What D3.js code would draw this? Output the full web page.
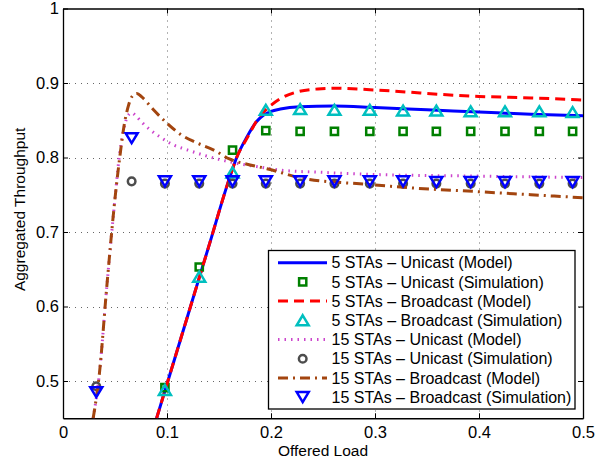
<!DOCTYPE html>
<html lang="en">
<head>
<meta charset="UTF-8">
<script src="https://d3js.org/d3.v7.min.js"></script>
<style>
  body { margin: 0; background: #fff; }
  svg { display: block; font-family: "Liberation Sans", Arial, Helvetica, sans-serif; }
</style>
</head>
<body>
<svg id="chart" width="607" height="463"></svg>
<script>
// ---- data ----
const xTicks = [0, 0.1, 0.2, 0.3, 0.4, 0.5];
const xTickLabels = ["0", "0.1", "0.2", "0.3", "0.4", "0.5"];
const yTicks = [0.5, 0.6, 0.7, 0.8, 0.9, 1];
const yTickLabels = ["0.5", "0.6", "0.7", "0.8", "0.9", "1"];

// offered load of the simulation points
const loadSim = [0.032, 0.066, 0.098, 0.131, 0.163, 0.195, 0.228, 0.261,
                 0.295, 0.327, 0.359, 0.392, 0.425, 0.458, 0.490];

// 5 STAs simulation points start at the 3rd load value (lower ones are off the axis)
const uni5Sim = [0.491, 0.653, 0.810, 0.836, 0.835, 0.835, 0.835, 0.835,
                 0.835, 0.835, 0.835, 0.835, 0.835];
const bc5Sim = [0.488, 0.640, 0.780, 0.864, 0.865, 0.864, 0.864, 0.863,
                0.863, 0.862, 0.862, 0.862, 0.861];
const uni15Sim = [0.493, 0.768, 0.765, 0.765, 0.765, 0.765, 0.765, 0.765,
                  0.765, 0.765, 0.765, 0.765, 0.765, 0.765, 0.765];
const bc15Sim = [0.485, 0.826, 0.768, 0.768, 0.768, 0.768, 0.768, 0.768,
                 0.768, 0.768, 0.767, 0.767, 0.767, 0.767, 0.767];

// model curves, [load, throughput]
const uni5Model = [[0.090,0.45],[0.100,0.496],[0.120,0.588],[0.140,0.680],[0.160,0.772],
  [0.167,0.800],[0.177,0.828],[0.186,0.848],[0.193,0.857],[0.200,0.862],[0.209,0.865],
  [0.228,0.868],[0.260,0.869],[0.300,0.867],[0.350,0.864],[0.400,0.861],[0.450,0.858],[0.500,0.856]];
const bc5Model = [[0.090,0.45],[0.100,0.496],[0.120,0.588],[0.140,0.680],[0.160,0.772],
  [0.167,0.800],[0.177,0.826],[0.189,0.855],[0.200,0.870],[0.209,0.879],[0.225,0.888],
  [0.245,0.892],[0.262,0.893],[0.295,0.891],[0.330,0.888],[0.360,0.885],[0.400,0.882],
  [0.450,0.880],[0.500,0.877]];
const uni15Model = [[0.029,0.45],[0.035,0.51],[0.042,0.625],[0.050,0.745],[0.054,0.800],
  [0.058,0.835],[0.062,0.855],[0.066,0.860],[0.070,0.856],[0.076,0.847],[0.084,0.837],
  [0.095,0.826],[0.106,0.817],[0.120,0.810],[0.138,0.802],[0.164,0.793],[0.190,0.787],
  [0.209,0.783],[0.250,0.780],[0.305,0.777],[0.400,0.775],[0.500,0.773]];
const bc15Model = [[0.029,0.45],[0.035,0.51],[0.042,0.625],[0.050,0.745],[0.055,0.805],
  [0.059,0.845],[0.063,0.870],[0.067,0.883],[0.071,0.886],[0.076,0.881],[0.087,0.864],
  [0.100,0.846],[0.113,0.831],[0.128,0.820],[0.145,0.810],[0.160,0.798],[0.180,0.790],
  [0.196,0.785],[0.231,0.772],[0.292,0.764],[0.337,0.759],[0.401,0.754],[0.450,0.750],
  [0.500,0.746]];

const legendLabels = [
  "5 STAs \u2013 Unicast (Model)",
  "5 STAs \u2013 Unicast (Simulation)",
  "5 STAs \u2013 Broadcast (Model)",
  "5 STAs \u2013 Broadcast (Simulation)",
  "15 STAs \u2013 Unicast (Model)",
  "15 STAs \u2013 Unicast (Simulation)",
  "15 STAs \u2013 Broadcast (Model)",
  "15 STAs \u2013 Broadcast (Simulation)"
];

// ---- layout ----
const svg = d3.select("#chart");
const plotL = 63, plotR = 583, plotT = 8.5, plotB = 418.25;
const tickFont = "16.5px";
const titleFont = "15.5px";

const x = d3.scaleLinear().domain([0, 0.5]).range([plotL, plotR]);
const y = d3.scaleLinear().domain([0.45, 1]).range([plotB, plotT]);

svg.append("rect").attr("width", 607).attr("height", 463).attr("fill", "#fff");

// grid
const grid = svg.append("g").attr("stroke", "#666").attr("stroke-width", 1)
  .attr("stroke-dasharray", "1,5");
grid.selectAll(".gx").data(xTicks.slice(1, -1)).enter().append("line")
  .attr("x1", d => Math.round(x(d)) + 0.5).attr("x2", d => Math.round(x(d)) + 0.5)
  .attr("y1", plotT).attr("y2", plotB);
grid.selectAll(".gy").data(yTicks.slice(0, -1)).enter().append("line")
  .attr("y1", d => Math.round(y(d)) + 0.5).attr("y2", d => Math.round(y(d)) + 0.5)
  .attr("x1", plotL).attr("x2", plotR);

// axes (MATLAB style: inward ticks on all four sides)
function styleAxis(g) {
  g.attr("font-size", tickFont).attr("font-family", null);
  g.selectAll("text").attr("fill", "#000");
  g.selectAll("line").attr("stroke", "#000");
  g.select(".domain").attr("stroke", "#000").attr("stroke-width", 1.3);
}

svg.append("g").attr("transform", `translate(0,${plotB})`)
  .call(d3.axisBottom(x).tickValues(xTicks).tickFormat((d, i) => xTickLabels[i])
    .tickSizeInner(-5).tickSizeOuter(0).tickPadding(8))
  .call(styleAxis);
svg.append("g").attr("transform", `translate(0,${plotT})`)
  .call(d3.axisTop(x).tickValues(xTicks).tickFormat("").tickSizeInner(-5).tickSizeOuter(0))
  .call(styleAxis);
svg.append("g").attr("transform", `translate(${plotL},0)`)
  .call(d3.axisLeft(y).tickValues(yTicks).tickFormat((d, i) => yTickLabels[i])
    .tickSizeInner(-5).tickSizeOuter(0).tickPadding(4))
  .call(styleAxis);
svg.append("g").attr("transform", `translate(${plotR},0)`)
  .call(d3.axisRight(y).tickValues(yTicks).tickFormat("").tickSizeInner(-5).tickSizeOuter(0))
  .call(styleAxis);

// axis titles
svg.append("text").attr("x", (plotL + plotR) / 2).attr("y", 456)
  .attr("text-anchor", "middle").attr("font-size", titleFont).text("Offered Load");
svg.append("text").attr("transform", `translate(25,${(plotT + plotB) / 2 - 4}) rotate(-90)`)
  .attr("text-anchor", "middle").attr("font-size", titleFont).text("Aggregated Throughput");

// clip
svg.append("clipPath").attr("id", "clip").append("rect")
  .attr("x", plotL).attr("y", plotT).attr("width", plotR - plotL).attr("height", plotB - plotT);
const plot = svg.append("g").attr("clip-path", "url(#clip)");

// marker shapes
const markerPath = {
  square: s => `M${-s},${-s}H${s}V${s}H${-s}Z`,
  up: s => `M0,${-s}L${s * 1.2},${s}L${-s * 1.2},${s}Z`,
  down: s => `M0,${s}L${s * 1.2},${-s}L${-s * 1.2},${-s}Z`,
  circle: s => `M${s},0A${s},${s} 0 1,1 ${-s},0A${s},${s} 0 1,1 ${s},0Z`
};

const series = [
  { type: "line", data: uni5Model, color: "#0000ff", width: 3, dash: null },
  { type: "marker", xs: loadSim.slice(2), ys: uni5Sim, color: "#008000", shape: "square", size: 3.6 },
  { type: "line", data: bc5Model, color: "#ff0000", width: 3, dash: "10,6" },
  { type: "marker", xs: loadSim.slice(2), ys: bc5Sim, color: "#00bfbf", shape: "up", size: 5 },
  { type: "line", data: uni15Model, color: "#cc44cc", width: 3, dash: "1.5,5" },
  { type: "marker", xs: loadSim, ys: uni15Sim, color: "#4d4d4d", shape: "circle", size: 3.8 },
  { type: "line", data: bc15Model, color: "#a3450f", width: 3, dash: "10,5,2,5" },
  { type: "marker", xs: loadSim, ys: bc15Sim, color: "#0000ff", shape: "down", size: 5 }
];

const line = d3.line().x(d => x(d[0])).y(d => y(d[1])).curve(d3.curveMonotoneX);

series.forEach(s => {
  if (s.type === "line") {
    plot.append("path").datum(s.data).attr("d", line)
      .attr("fill", "none").attr("stroke", s.color).attr("stroke-width", s.width)
      .attr("stroke-dasharray", s.dash);
  } else {
    plot.selectAll(null).data(s.ys.map((v, i) => [s.xs[i], v])).enter().append("path")
      .attr("transform", d => `translate(${x(d[0])},${y(d[1])})`)
      .attr("d", markerPath[s.shape](s.size))
      .attr("fill", "none").attr("stroke", s.color).attr("stroke-width", 2.5);
  }
});

// legend
const lg = svg.append("g");
const lgLeft = 268.5, lgTop = 250.5, lgW = 306.5, lgH = 158.5, rowH = 19.2;
lg.append("rect").attr("x", lgLeft).attr("y", lgTop).attr("width", lgW).attr("height", lgH)
  .attr("fill", "#fff").attr("stroke", "#000").attr("stroke-width", 1.3);

series.forEach((s, i) => {
  const cy = 262.7 + i * rowH;
  if (s.type === "line") {
    lg.append("line").attr("x1", 278).attr("x2", 327).attr("y1", cy).attr("y2", cy)
      .attr("stroke", s.color).attr("stroke-width", s.width).attr("stroke-dasharray", s.dash);
  } else {
    lg.append("path").attr("transform", `translate(302.7,${cy})`)
      .attr("d", markerPath[s.shape](s.size))
      .attr("fill", "none").attr("stroke", s.color).attr("stroke-width", 2.5);
  }
  lg.append("text").attr("x", 331.5).attr("y", cy).attr("dy", "0.36em")
    .attr("font-size", "16px").text(legendLabels[i]);
});
</script>
</body>
</html>
